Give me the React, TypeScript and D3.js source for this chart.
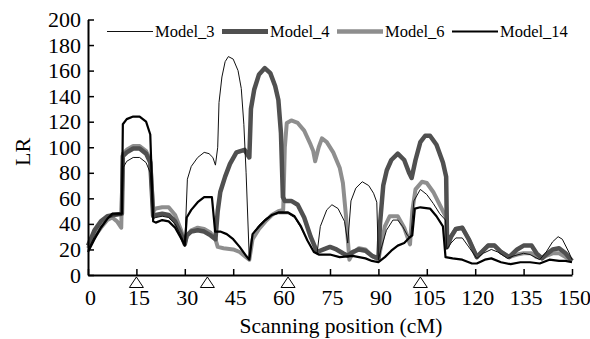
import React, { useEffect, useRef } from "react";
import * as d3 from "d3";

type Pt = [number, number];

// scan position (cM), LR
const model3: Pt[] = [
  [0, 20], [2, 30], [4, 38], [6, 44], [8, 47], [10.5, 47], [10.9, 84], [12, 89], [14, 92], [16, 92], [18, 88],
  [19.3, 80], [20.2, 44], [21, 45], [23, 46], [25, 45], [27, 40], [29, 30], [30, 24], [30.8, 75], [32, 85],
  [34, 92], [36, 96], [37.5, 95], [38.7, 92], [39.5, 86], [40.2, 100], [40.6, 135], [41.5, 155], [42.5, 167],
  [43.5, 171], [45, 169], [46.5, 160], [47.5, 146], [48.3, 118], [49, 80], [50, 12], [51, 32], [53, 39],
  [55, 44], [57, 47], [59, 48], [62, 48], [64, 45], [66, 37], [68, 27], [70, 18], [71, 17], [72, 38],
  [74, 51], [75.6, 55], [77.5, 52], [79.5, 42], [80.5, 25], [81.5, 58], [83, 68], [85, 73], [87, 70],
  [88.5, 64], [89.5, 57], [90, 12], [91, 22], [92.5, 35], [94.5, 43], [96, 43], [97.5, 38], [99, 31],
  [100, 29], [101, 58], [103, 67], [105, 63], [107, 56], [109, 48], [110.8, 43], [111.2, 20], [112.5, 25],
  [114, 29], [116, 29], [118, 22], [120.5, 13], [122.5, 17], [125, 20], [127, 18], [130, 13], [132, 15],
  [135, 17], [137, 16], [140, 12], [142, 18], [144, 26], [145.7, 30], [147, 28], [149, 18], [150, 12],
];

const model4: Pt[] = [
  [0, 23], [2, 35], [4, 42], [6, 46], [8, 47], [10.5, 48], [10.8, 93], [12, 96], [14, 99], [16, 99], [18, 95],
  [19.3, 88], [20.2, 46], [21, 47], [23, 48], [25, 47], [27, 42], [29, 31], [30, 24], [30.6, 31], [32, 34],
  [34, 35], [36, 34], [38, 31], [39.5, 28], [40.2, 50], [41, 65], [42.5, 77], [44, 87], [46, 96], [48.5, 98],
  [50, 92], [50.5, 130], [51.5, 145], [53, 157], [54.8, 162], [56.5, 158], [58, 148], [59, 137], [59.8, 111],
  [60.4, 61], [61, 58], [63, 58], [65, 55], [67, 45], [69, 30], [71, 18], [73, 20], [75, 22], [77, 20],
  [79, 17], [80.5, 15], [82, 18], [84, 20], [86, 19], [88, 15], [90, 13], [90.5, 40], [91.5, 70],
  [92.6, 82], [94, 90], [96, 95], [98, 90], [99.5, 80], [100.3, 76], [101.5, 90], [103, 104], [104.5, 109],
  [106, 109], [108, 102], [110, 88], [111, 77], [111.3, 22], [112.5, 30], [114, 36], [116, 37], [118, 28],
  [120.5, 14], [122, 18], [124, 23], [126, 23], [128, 18], [130.5, 14], [133, 20], [135, 23], [137.5, 23],
  [139, 17], [140.7, 13], [142, 16], [144, 20], [146, 21], [148, 17], [150, 11],
];

const model6: Pt[] = [
  [0, 21], [2, 30], [4, 37], [6, 43], [7.5, 45], [9, 42], [10.3, 37], [10.8, 95], [12, 98], [14, 101],
  [16, 101], [18, 97], [19.3, 90], [20.2, 50], [21, 52], [23, 53], [25, 53], [27, 47], [29, 34], [30, 25],
  [30.6, 30], [32, 35], [34, 37], [36, 36], [38, 33], [39.5, 28], [40.2, 22], [42, 21], [45, 20], [47, 18],
  [49, 14], [50, 12], [51, 28], [53, 36], [55, 42], [57, 47], [59, 50], [60.5, 51], [61, 100], [61.6, 119],
  [63, 121], [65, 119], [67, 113], [69, 102], [69.8, 97], [70.4, 89], [71.5, 100], [72.5, 107], [74, 104],
  [76, 96], [78, 84], [79, 72], [80, 45], [81, 12], [82, 17], [84, 21], [86, 20], [88, 15], [90, 12],
  [91, 25], [92, 38], [93.5, 46], [96, 46], [98, 37], [99.8, 24], [100.5, 50], [101.5, 67], [103.5, 73],
  [105, 72], [107, 65], [109, 55], [111, 45], [111.3, 22], [112.5, 30], [114, 36], [116, 37], [118, 28],
  [120.5, 14], [122, 18], [124, 23], [126, 23], [128, 18], [130.5, 14], [133, 16], [135, 17], [137.5, 17],
  [139, 14], [140.7, 13], [142, 15], [144, 17], [146, 17], [148, 14], [150, 11],
];

const model14: Pt[] = [
  [0, 18], [2, 28], [4, 37], [6, 44], [7.5, 48], [10.5, 48], [10.8, 118], [12, 122], [14, 124], [16, 124],
  [18, 120], [19.3, 110], [20.2, 42], [21, 41], [23, 43], [25, 42], [27, 37], [29, 28], [30, 23], [30.6, 45],
  [32, 51], [34, 57], [36, 61], [38.4, 61], [39.4, 34], [41, 34], [43, 32], [45, 28], [47, 22], [49, 15],
  [50, 12], [51, 32], [53, 38], [55, 43], [57, 47], [59, 49], [62, 49], [64, 46], [66, 38], [68, 27],
  [70, 18], [71.5, 16], [75, 16], [78, 14], [82, 15], [86, 13], [88, 11], [90, 10], [92, 14], [94, 19],
  [96, 23], [98, 25], [99.5, 29], [100.5, 31], [101.3, 52], [103, 53], [106, 52], [108, 46], [110, 38],
  [110.8, 14], [113, 13], [116, 12], [119, 9], [120.5, 9], [123, 12], [125, 13], [128, 10], [131, 8.5],
  [134, 10], [137, 10], [140, 9], [143, 12], [146, 11], [148, 11], [150, 10],
];

const seriesNames = ["Model_3", "Model_4", "Model_6", "Model_14"];
const markerPositions = [15, 37, 62, 103];
const xTicks = [0, 15, 30, 45, 60, 75, 90, 105, 120, 135, 150];
const yTicks = [0, 20, 40, 60, 80, 100, 120, 140, 160, 180, 200];

export default function App() {
  const svgRef = useRef<SVGSVGElement>(null);

  useEffect(() => {
    const w = 590;
    const h = 339;
    const svg = d3.select(svgRef.current);
    svg.selectAll("*").remove();
    svg.attr("width", w).attr("height", h).style("background", "#fff");

    const font = "'Liberation Serif', 'Times New Roman', serif";
    const x = d3.scaleLinear().domain([0, 150]).range([88, 572]);
    const y = d3.scaleLinear().domain([0, 200]).range([275, 19.5]);

    const styles = [
      { data: model6, color: "#8e8e8e", width: 4 },
      { data: model4, color: "#505050", width: 4.5 },
      { data: model3, color: "#111", width: 1 },
      { data: model14, color: "#000", width: 2.2 },
    ];
    const legendStyles = [
      { color: "#111", width: 1 },
      { color: "#505050", width: 5 },
      { color: "#8e8e8e", width: 4.5 },
      { color: "#000", width: 2.2 },
    ];

    const line = d3
      .line<Pt>()
      .x((d) => x(d[0]))
      .y((d) => y(d[1]));

    styles.forEach((s) => {
      svg
        .append("path")
        .datum(s.data)
        .attr("d", line)
        .attr("fill", "none")
        .attr("stroke", s.color)
        .attr("stroke-width", s.width)
        .attr("stroke-linejoin", "round");
    });

    // axes
    const xAxis = svg
      .append("g")
      .attr("transform", "translate(0,275)")
      .call(d3.axisBottom(x).tickValues(xTicks).tickSizeInner(-6).tickSizeOuter(0).tickPadding(14));
    xAxis.select(".domain").attr("stroke-width", 2);
    xAxis.selectAll(".tick line").attr("stroke-width", 1.5);
    xAxis.selectAll("text").attr("font-family", font).style("font-family", font).style("font-size", "22px").attr("fill", "#000");
    xAxis.selectAll(".tick text").attr("dx", 2);

    const yAxis = svg
      .append("g")
      .attr("transform", "translate(88,0)")
      .call(d3.axisLeft(y).tickValues(yTicks).tickSizeInner(-6).tickSizeOuter(0).tickPadding(7));
    yAxis.select(".domain").attr("stroke-width", 2);
    yAxis.selectAll(".tick line").attr("stroke-width", 1.5);
    yAxis.selectAll("text").attr("font-family", font).style("font-family", font).style("font-size", "22px").attr("fill", "#000");

    // marker triangles
    svg
      .selectAll(".marker")
      .data(markerPositions)
      .enter()
      .append("path")
      .attr("class", "marker")
      .attr("d", (d) => `M${x(d)},277 L${x(d) - 7},287.5 L${x(d) + 7},287.5 Z`)
      .attr("fill", "#fff")
      .attr("stroke", "#000")
      .attr("stroke-width", 1);

    // titles
    svg
      .append("text")
      .attr("x", 341)
      .attr("y", 333)
      .attr("text-anchor", "middle")
      .style("font-family", font)
      .style("font-size", "21.5px")
      .text("Scanning position (cM)");

    svg
      .append("text")
      .attr("transform", "translate(30,152) rotate(-90)")
      .attr("text-anchor", "middle")
      .style("font-family", font)
      .style("font-size", "22px")
      .text("LR");

    // legend
    const legendX = [107, 222, 337, 452];
    seriesNames.forEach((name, i) => {
      svg
        .append("line")
        .attr("x1", legendX[i])
        .attr("x2", legendX[i] + 46)
        .attr("y1", 31.5)
        .attr("y2", 31.5)
        .attr("stroke", legendStyles[i].color)
        .attr("stroke-width", legendStyles[i].width);
      svg
        .append("text")
        .attr("x", legendX[i] + 48)
        .attr("y", 37)
        .style("font-family", font)
        .style("font-size", "16.5px")
        .text(name);
    });
  }, []);

  return (
    <div style={{ position: "absolute", left: 0, top: 0 }}>
      <svg ref={svgRef}></svg>
    </div>
  );
}
